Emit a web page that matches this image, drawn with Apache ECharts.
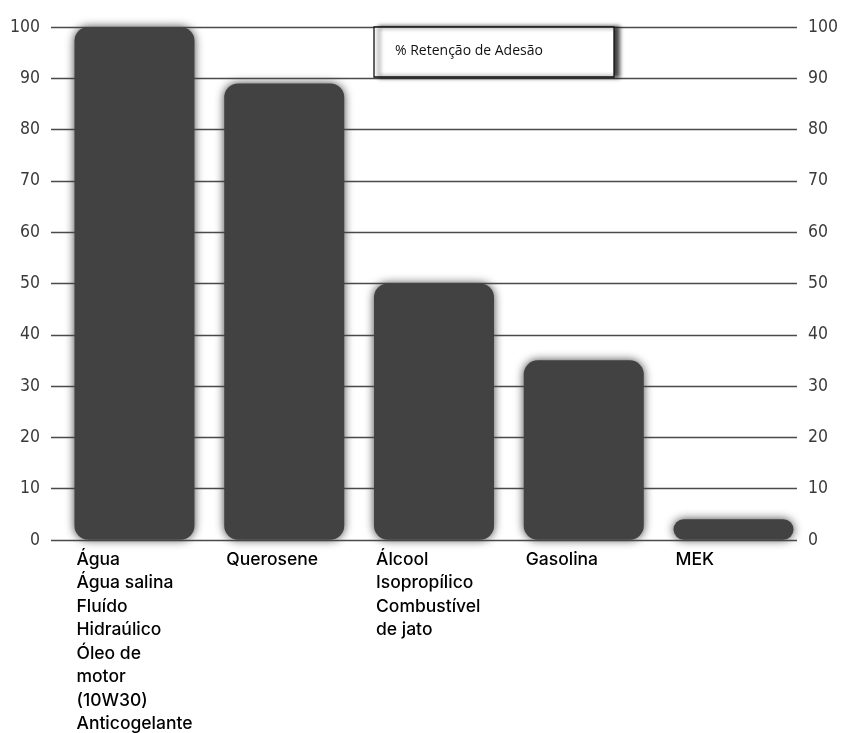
<!DOCTYPE html>
<html>
<head>
<meta charset="utf-8">
<style>
  html, body { margin: 0; padding: 0; background: #fff; }
  #chart { width: 841px; height: 733px; }
</style>
<script src="https://cdn.jsdelivr.net/npm/echarts@6/dist/echarts.min.js"></script>
</head>
<body>
<div id="chart"></div>
<script>
// Fluids tested and the adhesion retained after exposure
const categories = [
  ['Água', 'Água salina', 'Fluído', 'Hidraúlico', 'Óleo de', 'motor', '(10W30)', 'Anticogelante'],
  ['Querosene'],
  ['Álcool', 'Isopropílico', 'Combustível', 'de jato'],
  ['Gasolina'],
  ['MEK']
];
const retention = [100, 89, 50, 35, 4];
const seriesName = '% Retenção de Adesão';
const yTicks = [0, 10, 20, 30, 40, 50, 60, 70, 80, 90, 100];

const barColor = '#424242';
const tickFont = "'Liberation Sans Narrow', 'DejaVu Sans Condensed', sans-serif";

const chart = echarts.init(document.getElementById('chart'), null, { renderer: 'canvas' });

const valueAxisBase = {
  type: 'value',
  min: yTicks[0],
  max: yTicks[yTicks.length - 1],
  interval: yTicks[1] - yTicks[0],
  axisLine: { show: false },
  axisTick: { show: false }
};

const tickLabel = {
  margin: 11,
  fontFamily: tickFont,
  fontSize: 17.5,
  color: '#3a3a3a',
  padding: [0, 0, 4, 0]
};

chart.setOption({
  animation: false,
  backgroundColor: '#fff',
  legend: {
    data: [seriesName],
    left: 374,
    top: 27,
    orient: 'horizontal',
    selectedMode: false,
    icon: 'rect',
    itemWidth: 0,
    itemHeight: 0,
    itemStyle: { opacity: 0 },
    padding: [15, 20, 17, 16],
    backgroundColor: '#fff',
    borderColor: '#111',
    borderWidth: 1.3,
    shadowColor: 'rgba(0,0,0,0.75)',
    shadowBlur: 4,
    shadowOffsetX: 5,
    shadowOffsetY: 0,
    textStyle: {
      fontFamily: "'Open Sans', sans-serif",
      fontSize: 14,
      color: '#111',
      width: 199,
      lineHeight: 18
    }
  },
  grid: [
    // gridlines and both value scales
    { left: 51, right: 44, top: 27, bottom: 193, containLabel: false },
    // bars and category labels
    { left: 59.6, right: 32.6, top: 27, bottom: 193, containLabel: false }
  ],
  xAxis: [
    { gridIndex: 0, type: 'value', min: 0, max: 1, show: false },
    {
      gridIndex: 1,
      type: 'category',
      data: categories.map(c => c.join('\n')),
      axisLine: { show: false },
      axisTick: { show: false },
      axisLabel: {
        interval: 0,
        margin: 8,
        align: 'center',
        verticalAlign: 'top',
        formatter: (v) => v.split('\n').map(s => '{t|' + s + '}').join('\n'),
        rich: {
          t: {
            width: 116,
            align: 'left',
            fontFamily: "Inter, 'Noto Sans', sans-serif",
            fontWeight: 500,
            fontSize: 17.5,
            lineHeight: 23.5,
            color: '#000'
          }
        }
      }
    }
  ],
  yAxis: [
    Object.assign({}, valueAxisBase, {
      gridIndex: 0,
      position: 'left',
      splitLine: { show: true, lineStyle: { color: '#4a4a4a', width: 1.3 } },
      axisLabel: tickLabel
    }),
    Object.assign({}, valueAxisBase, {
      gridIndex: 0,
      position: 'right',
      splitLine: { show: false },
      axisLabel: tickLabel
    }),
    Object.assign({}, valueAxisBase, {
      gridIndex: 1,
      show: false,
      splitLine: { show: false }
    })
  ],
  series: [
    {
      name: seriesName,
      type: 'bar',
      xAxisIndex: 1,
      yAxisIndex: 2,
      data: retention,
      barWidth: 120,
      itemStyle: {
        color: barColor,
        borderRadius: 14,
        shadowColor: barColor,
        shadowBlur: 10
      }
    }
  ]
});
</script>
</body>
</html>
